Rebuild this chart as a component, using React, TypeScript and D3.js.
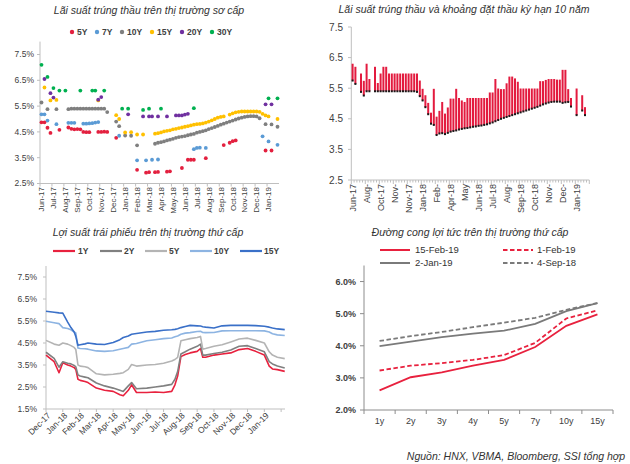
import React from "react";
import * as d3 from "d3";

const FONT = "'Liberation Sans', Arial, Helvetica, sans-serif";
const TXT = "#404040";
const AX = "#bfbfbf";

// ---------------- Panel 1: primary auction yields (category = auction number)
const p1Count = 80;
const p1TickLabels = ["Jun-17","Jul-17","Aug-17","Sep-17","Oct-17","Nov-17","Dec-17","Jan-18","Feb-18","Mar-18","Apr-18","May-18","Jun-18","Jul-18","Aug-18","Sep-18","Oct-18","Nov-18","Dec-18","Jan-19"];
const p1YTicks = [2.5, 3.5, 4.5, 5.5, 6.5, 7.5];
const auc5Y: [number, number][] = [[0,4.87],[1,4.87],[2,4.66],[3,4.46],[6,4.58],[9,4.67],[10,4.62],[11,4.6],[12,4.61],[13,4.6],[14,4.5],[15,4.49],[16,4.49],[19,4.5],[20,4.5],[21,4.51],[22,4.5],[25,4.27],[32,3.03],[35,2.92],[36,2.94],[38,2.94],[39,2.95],[42,2.96],[43,2.97],[47,3.1],[49,3.42],[50,3.42],[51,3.42],[55,3.48],[61,3.99],[63,4.08],[64,4.14],[65,4.17],[75,3.78],[77,3.78]];
const auc7Y: [number, number][] = [[0,5.18],[1,5.18],[2,4.94],[5,4.8],[9,4.85],[10,4.85],[11,4.85],[14,4.82],[15,4.82],[16,4.83],[17,4.84],[18,4.86],[19,4.88],[26,4.35],[32,3.4],[35,3.4],[37,3.42],[39,3.43],[51,3.83],[52,3.88],[53,3.89],[55,3.88],[74,4.33],[76,4.13],[79,4.0]];
const auc10Y: [number, number][] = [[0,5.64],[2,5.38],[5,5.38],[9,5.38],[10,5.4],[11,5.4],[12,5.4],[13,5.4],[14,5.4],[15,5.4],[16,5.4],[17,5.4],[18,5.4],[19,5.4],[20,5.4],[21,5.4],[22,5.27],[25,4.9],[26,4.72],[28,4.36],[30,4.35],[32,3.98],[38,4.04],[39,4.08],[40,4.1],[41,4.13],[42,4.17],[43,4.2],[44,4.23],[45,4.27],[46,4.3],[47,4.32],[48,4.34],[49,4.37],[50,4.4],[51,4.42],[52,4.47],[53,4.5],[54,4.53],[55,4.56],[56,4.61],[57,4.65],[58,4.69],[59,4.73],[60,4.78],[61,4.82],[62,4.86],[63,4.9],[64,4.94],[65,4.98],[66,5.02],[67,5.05],[68,5.08],[69,5.1],[70,5.11],[71,5.11],[72,5.1],[73,5.03],[75,4.8],[77,4.79],[79,4.7]];
const auc15Y: [number, number][] = [[1,6.22],[3,5.72],[5,5.74],[19,5.72],[25,5.15],[26,5.0],[28,4.48],[30,4.49],[32,4.4],[34,4.4],[38,4.43],[39,4.45],[40,4.48],[41,4.52],[42,4.54],[43,4.56],[44,4.6],[45,4.62],[46,4.65],[47,4.67],[48,4.7],[49,4.72],[50,4.75],[51,4.78],[52,4.8],[53,4.81],[54,4.83],[55,4.86],[56,4.9],[57,4.95],[58,5.0],[59,5.05],[60,5.08],[61,5.1],[63,5.17],[64,5.22],[65,5.26],[66,5.28],[67,5.29],[68,5.29],[69,5.29],[70,5.29],[71,5.29],[72,5.29],[73,5.28],[74,5.2],[75,5.14],[76,5.1],[79,5.0]];
const auc20Y: [number, number][] = [[1,6.55],[3,6.0],[4,5.83],[19,5.75],[20,5.85],[29,5.18],[34,5.1],[36,5.1],[37,5.1],[39,5.1],[42,5.1],[45,5.14],[46,5.14],[47,5.14],[48,5.17],[49,5.2],[75,5.57],[77,5.57]];
const auc30Y: [number, number][] = [[0,7.1],[2,6.63],[4,6.2],[6,6.1],[8,6.1],[13,6.1],[17,6.1],[18,6.1],[21,6.1],[27,5.4],[29,5.4],[34,5.35],[36,5.4],[40,5.4],[51,5.42],[76,5.8],[79,5.8]];
const p1Series = [
  { name: "5Y", color: "#e3203f", data: auc5Y },
  { name: "7Y", color: "#5b9bd5", data: auc7Y },
  { name: "10Y", color: "#7f7f7f", data: auc10Y },
  { name: "15Y", color: "#ffc000", data: auc15Y },
  { name: "20Y", color: "#7030a0", data: auc20Y },
  { name: "30Y", color: "#00b050", data: auc30Y },
];

// ---------------- Panel 2: 10Y auction range (high bid / winning yield)
const p2Count = 85;
const p2TickLabels = ["Jun-17","Aug-","Oct-17","Nov-","Nov-17","Jan-18","Feb-","Apr-18","May","Jun-18","Jul-18","Aug-","Sep-18","Oct-18","Nov-","Dec-","Jan-19"];
const p2YTicks = [2.5, 3.5, 4.5, 5.5, 6.5, 7.5];
const bidHigh: (number | null)[] = [6.3,6.2,null,5.98,5.74,6.3,5.8,null,6.2,5.67,5.98,6.2,6.2,5.98,5.98,5.98,5.98,5.98,5.98,5.98,5.98,5.98,5.98,5.98,5.75,5.48,5.27,5.02,4.7,5.48,4.57,4.76,5.05,4.67,4.87,5.16,5.16,5.48,5.18,5.1,5.05,5.18,5.18,5.18,5.18,5.18,5.18,5.18,5.18,5.36,5.36,5.8,5.49,5.47,5.47,5.66,5.88,5.88,5.82,5.71,5.49,5.49,5.49,5.49,5.49,5.49,5.49,5.73,5.73,5.77,5.8,5.8,5.8,5.78,5.78,6.1,6.1,5.47,5.18,null,5.49,null,5.27,4.88,null];
const winYield: (number | null)[] = [5.75,5.64,null,5.38,5.26,5.4,5.4,null,5.4,5.4,5.4,5.4,5.4,5.4,5.4,5.4,5.4,5.4,5.4,5.4,5.4,5.4,5.4,5.38,5.24,5.1,4.88,4.65,4.34,4.3,3.97,4.02,4.03,4.0,4.04,4.08,4.1,4.12,4.15,4.17,4.19,4.2,4.22,4.24,4.25,4.27,4.28,4.3,4.32,4.35,4.38,4.42,4.46,4.5,4.53,4.56,4.59,4.62,4.65,4.68,4.71,4.74,4.77,4.8,4.83,4.86,4.89,4.93,4.97,5.0,5.03,5.05,5.06,5.06,5.06,5.02,5.04,5.05,4.9,null,4.62,null,4.77,4.62,null];

// ---------------- Panel 3: secondary market yields
const p3Dates = ["2017-12-01","2017-12-16","2017-12-25","2018-01-01","2018-01-10","2018-01-16","2018-01-22","2018-01-25","2018-01-29","2018-02-02","2018-02-10","2018-02-15","2018-03-01","2018-03-16","2018-04-01","2018-04-13","2018-04-19","2018-04-28","2018-05-04","2018-05-13","2018-06-01","2018-06-16","2018-07-01","2018-07-16","2018-07-22","2018-07-27","2018-08-02","2018-08-10","2018-08-19","2018-09-01","2018-09-07","2018-09-11","2018-09-16","2018-10-01","2018-10-16","2018-11-01","2018-11-16","2018-12-01","2018-12-16","2019-01-01","2019-01-10","2019-01-16","2019-01-25","2019-02-07"];
const p3MonthLabels = ["Dec-17","Jan-18","Feb-18","Mar-18","Apr-18","May-18","Jun-18","Jul-18","Aug-18","Sep-18","Oct-18","Nov-18","Dec-18","Jan-19"];
const p3YTicks = [1.5, 2.5, 3.5, 4.5, 5.5, 6.5, 7.5];
const sec1Y = [3.95,3.65,3.15,3.6,3.5,3.45,3.38,3.3,2.85,2.8,2.75,2.7,2.45,2.35,2.3,2.15,2.1,2.35,2.6,2.25,2.25,2.27,2.25,2.3,2.6,3.0,3.88,3.98,4.05,4.12,4.25,3.85,3.85,3.95,4.0,4.05,4.2,4.25,4.12,3.95,3.45,3.32,3.29,3.21];
const sec2Y = [4.08,3.8,3.4,3.65,3.58,3.55,3.48,3.42,3.05,3.0,2.95,2.92,2.68,2.55,2.45,2.35,2.3,2.55,2.7,2.42,2.45,2.5,2.55,2.62,2.85,3.2,4.0,4.1,4.22,4.35,4.45,3.95,3.95,4.02,4.08,4.18,4.35,4.38,4.25,4.1,3.65,3.55,3.45,3.36];
const sec5Y = [4.62,4.45,4.4,4.5,4.45,4.38,4.3,4.2,3.5,3.45,3.42,3.38,3.1,3.05,3.08,3.12,3.15,3.3,3.52,3.45,3.5,3.52,3.58,3.68,3.75,3.85,4.6,4.65,4.7,4.75,4.8,4.22,4.25,4.35,4.42,4.55,4.68,4.72,4.62,4.5,4.1,3.95,3.85,3.79];
const sec10Y = [5.49,5.42,5.38,5.2,5.16,5.1,5.0,4.96,4.27,4.25,4.24,4.22,4.14,4.12,4.15,4.22,4.25,4.3,4.45,4.48,4.6,4.65,4.7,4.73,4.78,4.82,4.9,4.95,4.97,5.02,5.03,4.98,4.97,4.98,5.05,5.06,5.06,5.06,5.06,5.05,5.0,4.92,4.87,4.84];
const sec15Y = [5.94,5.9,5.87,5.86,5.45,5.2,5.0,4.8,4.4,4.42,4.46,4.5,4.45,4.43,4.52,4.65,4.75,4.82,4.9,4.93,5.0,5.03,5.08,5.1,5.12,5.15,5.2,5.25,5.3,5.28,5.27,5.24,5.22,5.18,5.28,5.3,5.3,5.3,5.29,5.26,5.22,5.18,5.14,5.11];
const p3Series = [
  { name: "1Y", color: "#e8213e", data: sec1Y },
  { name: "2Y", color: "#808080", data: sec2Y },
  { name: "5Y", color: "#b4b4b4", data: sec5Y },
  { name: "10Y", color: "#8db4e2", data: sec10Y },
  { name: "15Y", color: "#3a70c8", data: sec15Y },
];

// ---------------- Panel 4: yield curves
const tenors = ["1y","2y","3y","4y","5y","7y","10y","15y"];
const p4YTicks = [2.0, 3.0, 4.0, 5.0, 6.0];
const curve15Feb19 = [2.61,3.02,3.17,3.38,3.56,3.96,4.62,4.98];
const curve1Feb19 = [3.23,3.38,3.46,3.56,3.71,4.09,4.85,5.1];
const curve2Jan19 = [3.99,4.13,4.27,4.38,4.47,4.68,5.08,5.33];
const curve4Sep18 = [4.15,4.3,4.43,4.58,4.72,4.87,5.12,5.33];
const p4Series = [
  { name: "15-Feb-19", color: "#e8213e", dash: "", data: curve15Feb19 },
  { name: "1-Feb-19", color: "#e8213e", dash: "4.5 2.5", data: curve1Feb19 },
  { name: "2-Jan-19", color: "#7a7a7a", dash: "", data: curve2Jan19 },
  { name: "4-Sep-18", color: "#7a7a7a", dash: "4.5 2.5", data: curve4Sep18 },
];

function monthIndex(s: string) {
  const [yy, mm, dd] = s.split("-").map(Number);
  const dim = new Date(Date.UTC(yy, mm, 0)).getUTCDate();
  return (yy - 2017) * 12 + (mm - 12) + (dd - 1) / dim;
}

function Title({ x, y, text }: { x: number; y: number; text: string }) {
  return (
    <text x={x} y={y} textAnchor="middle" fontStyle="italic" fontSize={10.5} fill="#333">
      {text}
    </text>
  );
}

function Panel1() {
  const x = d3.scaleBand<number>().domain(d3.range(p1Count)).range([40, 279]);
  const bw = x.bandwidth();
  const cx = (i: number) => (x(i) as number) + bw / 2;
  const y = d3.scaleLinear().domain([2.5, 8]).range([183.5, 41.6]);
  const legendX = [72, 97, 122, 152, 182, 212];
  return (
    <g>
      <Title x={149} y={13.5} text="Lãi suất trúng thầu trên thị trường sơ cấp" />
      {p1Series.map((s, k) => (
        <g key={s.name}>
          <circle cx={legendX[k]} cy={32} r={2.2} fill={s.color} />
          <text x={legendX[k] + 5} y={32} dy="0.35em" fontSize={8.5} fontWeight="bold" fill={TXT}>{s.name}</text>
        </g>
      ))}
      <line x1={40} x2={40} y1={y(8)} y2={y(2.5)} stroke={AX} />
      <line x1={40} x2={279} y1={y(2.5)} y2={y(2.5)} stroke={AX} />
      {p1YTicks.map((t) => (
        <g key={t}>
          <line x1={37} x2={40} y1={y(t)} y2={y(t)} stroke={AX} />
          <text x={34} y={y(t)} dy="0.35em" textAnchor="end" fontSize={8.5} fill={TXT}>{t.toFixed(1)}%</text>
        </g>
      ))}
      {p1TickLabels.map((lab, k) => {
        const i = k * 4;
        const bx = x(i) as number;
        return (
          <g key={lab}>
            <line x1={bx} x2={bx} y1={y(2.5)} y2={y(2.5) + 3} stroke={AX} />
            <text transform={`translate(${cx(i)},${187}) rotate(-90)`} dy="0.35em" textAnchor="end" fontSize={8} fill={TXT}>{lab}</text>
          </g>
        );
      })}
      {p1Series.map((s) => (
        <g key={s.name}>
          {s.data.map(([i, v]) => (
            <circle key={i} cx={cx(i)} cy={y(v)} r={1.9} fill={s.color} />
          ))}
        </g>
      ))}
    </g>
  );
}

function Panel2() {
  const x = d3.scaleBand<number>().domain(d3.range(p2Count)).range([351.3, 589.3]);
  const bw = x.bandwidth();
  const y = d3.scaleLinear().domain([2.5, 7.5]).range([180, 27]);
  return (
    <g>
      <Title x={464} y={13} text="Lãi suất trúng thầu và khoảng đặt thầu kỳ hạn 10 năm" />
      <line x1={351.3} x2={351.3} y1={y(7.5)} y2={y(2.5)} stroke={AX} />
      <line x1={351.3} x2={589.3} y1={y(2.5)} y2={y(2.5)} stroke={AX} />
      {p2YTicks.map((t) => (
        <g key={t}>
          <line x1={348} x2={351.3} y1={y(t)} y2={y(t)} stroke={AX} />
          <text x={343} y={y(t)} dy="0.35em" textAnchor="end" fontSize={10} fill={TXT}>{t.toFixed(1)}</text>
        </g>
      ))}
      {d3.range(p2Count + 1).map((i) => {
        const bx = i < p2Count ? (x(i) as number) : 589.3;
        return <line key={i} x1={bx} x2={bx} y1={y(2.5)} y2={y(2.5) + (i % 5 === 0 ? 4 : 2.5)} stroke={AX} />;
      })}
      {p2TickLabels.map((lab, k) => {
        const i = k * 5;
        return (
          <text key={k} transform={`translate(${(x(i) as number) + bw / 2},${184}) rotate(-90)`} dy="0.35em" textAnchor="end" fontSize={9} fill={TXT}>{lab}</text>
        );
      })}
      {bidHigh.map((h, i) => {
        const lo = winYield[i];
        if (h == null || lo == null) return null;
        const bx = x(i) as number;
        return (
          <g key={i}>
            <rect x={bx + 0.3} width={bw - 0.8} y={y(h)} height={y(lo) - y(h)} fill="#e31b3f" />
            <rect x={bx + 0.3} width={bw - 0.8} y={y(lo) - 1} height={2} fill="#1a1a1a" />
          </g>
        );
      })}
    </g>
  );
}

function Panel3() {
  const x = d3.scaleLinear().domain([0, 14.23]).range([46, 285]);
  const y = d3.scaleLinear().domain([1.5, 8]).range([409, 266]);
  const xs = p3Dates.map(monthIndex);
  const line = d3.line<number>().x((_, i) => x(xs[i])).y((v) => y(v));
  const legend = [
    { x1: 53, tx: 78 },
    { x1: 100, tx: 124 },
    { x1: 145, tx: 169 },
    { x1: 190, tx: 214 },
    { x1: 240, tx: 264 },
  ];
  return (
    <g>
      <Title x={148} y={236} text="Lợi suất trái phiếu trên thị trường thứ cấp" />
      {p3Series.map((s, k) => (
        <g key={s.name}>
          <line x1={legend[k].x1} x2={legend[k].x1 + 22} y1={251} y2={251} stroke={s.color} strokeWidth={2.2} />
          <text x={legend[k].tx} y={251} dy="0.35em" fontSize={8.5} fontWeight="bold" fill={TXT}>{s.name}</text>
        </g>
      ))}
      <line x1={46} x2={46} y1={y(8)} y2={y(1.5)} stroke={AX} />
      <line x1={46} x2={285} y1={y(1.5)} y2={y(1.5)} stroke={AX} />
      {p3YTicks.map((t) => (
        <g key={t}>
          <line x1={43} x2={46} y1={y(t)} y2={y(t)} stroke={AX} />
          <text x={37} y={y(t)} dy="0.35em" textAnchor="end" fontSize={8.5} fill={TXT}>{t.toFixed(1)}%</text>
        </g>
      ))}
      {d3.range(15).map((m) => (
        <line key={m} x1={x(m)} x2={x(m)} y1={y(1.5)} y2={y(1.5) + 3} stroke={AX} />
      ))}
      {p3MonthLabels.map((lab, m) => (
        <text key={lab} transform={`translate(${x(m) + 3},${414}) rotate(-45)`} dy="0.35em" textAnchor="end" fontSize={8.5} fill={TXT}>{lab}</text>
      ))}
      {p3Series.map((s) => (
        <path key={s.name} d={line(s.data) || ""} fill="none" stroke={s.color} strokeWidth={1.6} strokeLinejoin="round" />
      ))}
    </g>
  );
}

function Panel4() {
  const x = d3.scaleBand<string>().domain(tenors).range([364, 613]);
  const bw = x.bandwidth();
  const cx = (t: string) => (x(t) as number) + bw / 2;
  const y = d3.scaleLinear().domain([2, 6.5]).range([410, 265.5]);
  const line = d3.line<number>().x((_, i) => cx(tenors[i])).y((v) => y(v));
  const leg = [
    { lx: 380, tx: 415, ly: 250 },
    { lx: 503, tx: 537, ly: 250 },
    { lx: 380, tx: 415, ly: 263 },
    { lx: 503, tx: 537, ly: 263 },
  ];
  return (
    <g>
      <Title x={470} y={236} text="Đường cong lợi tức trên thị trường thứ cấp" />
      {p4Series.map((s, k) => (
        <g key={s.name}>
          <line x1={leg[k].lx} x2={leg[k].lx + 30} y1={leg[k].ly} y2={leg[k].ly} stroke={s.color} strokeWidth={2} strokeDasharray={s.dash || undefined} />
          <text x={leg[k].tx} y={leg[k].ly} dy="0.35em" fontSize={9.5} fill="#333">{s.name}</text>
        </g>
      ))}
      <line x1={364} x2={364} y1={y(6.5)} y2={y(2)} stroke="#8c8c8c" />
      <line x1={364} x2={613} y1={y(2)} y2={y(2)} stroke="#8c8c8c" />
      {p4YTicks.map((t) => (
        <g key={t}>
          <line x1={360} x2={364} y1={y(t)} y2={y(t)} stroke="#8c8c8c" />
          <text x={356} y={y(t)} dy="0.35em" textAnchor="end" fontSize={9} fontWeight="bold" fill={TXT}>{t.toFixed(1)}%</text>
        </g>
      ))}
      {tenors.map((t) => (
        <g key={t}>
          <line x1={(x(t) as number) + bw} x2={(x(t) as number) + bw} y1={y(2)} y2={y(2) + 4} stroke="#8c8c8c" />
          <text x={cx(t)} y={424} textAnchor="middle" fontSize={9} fill={TXT}>{t}</text>
        </g>
      ))}
      <line x1={364} x2={364} y1={y(2)} y2={y(2) + 4} stroke="#8c8c8c" />
      {p4Series.map((s) => (
        <path key={s.name} d={line(s.data) || ""} fill="none" stroke={s.color} strokeWidth={1.8} strokeDasharray={s.dash || undefined} />
      ))}
    </g>
  );
}

export default function App() {
  return (
    <svg
      width={630}
      height={464}
      viewBox="0 0 630 464"
      style={{ position: "absolute", left: 0, top: 0, display: "block", background: "#fff" }}
      fontFamily={FONT}
    >
      <rect width={630} height={464} fill="#fff" />
      <Panel1 />
      <Panel2 />
      <Panel3 />
      <Panel4 />
      <text x={625} y={460} textAnchor="end" fontStyle="italic" fontSize={10.5} fill="#333">
        Nguồn: HNX, VBMA, Bloomberg, SSI tổng hợp
      </text>
    </svg>
  );
}
